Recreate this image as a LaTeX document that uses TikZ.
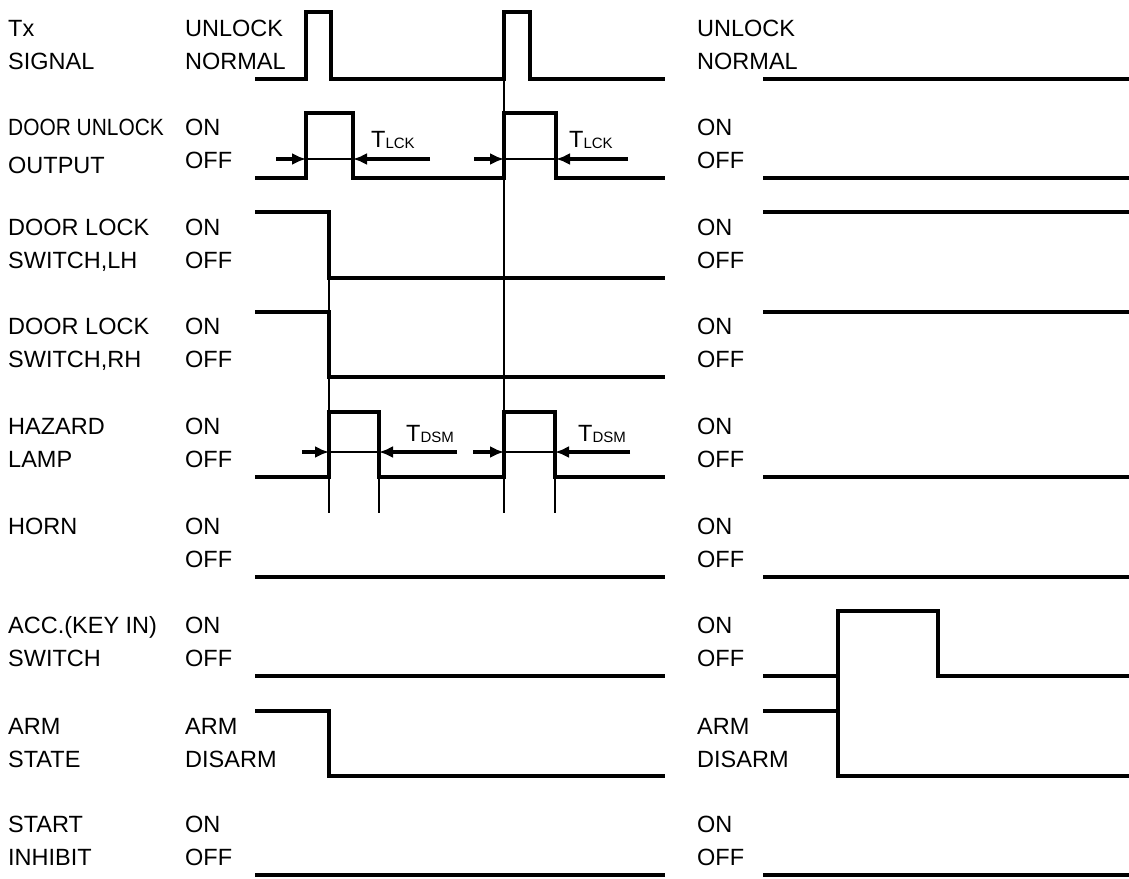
\documentclass[tikz,border=0pt]{standalone}
\usepackage{graphicx}
\usepackage{fontspec}
\setmainfont{Liberation Sans}
\usetikzlibrary{arrows.meta}
\begin{document}
\begin{tikzpicture}[x=1pt,y=-1pt,
  sig/.style={line width=4pt, line join=miter},
  thinln/.style={line width=1.6pt},
  midln/.style={line width=2.6pt},
  arr/.style={line width=4pt, -{Latex[length=14pt,width=12pt]}},
  lbl/.style={anchor=base west, inner sep=0pt, font=\fontsize{23.5}{28}\selectfont},
  tlbl/.style={anchor=base west, inner sep=0pt, font=\fontsize{23.5}{28}\selectfont}
]
\useasboundingbox[fill=white] (0,0) rectangle (1129,878);

% ---------- labels ----------
% row baselines b_r = 36 + 99.6 r
\node[lbl] (n0a) at (8,36) {Tx};
\node[lbl] (n0b) at (8,69) {SIGNAL};
\node[lbl] (s0a) at (185,36) {UNLOCK};
\node[lbl] (s0b) at (185,69) {NORMAL};
\node[lbl] (r0a) at (697,36) {UNLOCK};
\node[lbl] (r0b) at (697,69) {NORMAL};

\node[lbl] (n1a) at (8,135.6) {\scalebox{0.89}[1]{DOOR UNLOCK}};
\node[lbl] (n1b) at (8,173.6) {OUTPUT};
\node[lbl] (s1a) at (185,135.6) {ON};
\node[lbl] (s1b) at (185,168.6) {OFF};
\node[lbl] (r1a) at (697,135.6) {ON};
\node[lbl] (r1b) at (697,168.6) {OFF};

\node[lbl] (n2a) at (8,235.2) {DOOR LOCK};
\node[lbl] (n2b) at (8,268.2) {SWITCH,LH};
\node[lbl] (s2a) at (185,235.2) {ON};
\node[lbl] (s2b) at (185,268.2) {OFF};
\node[lbl] (r2a) at (697,235.2) {ON};
\node[lbl] (r2b) at (697,268.2) {OFF};

\node[lbl] (n3a) at (8,334.8) {DOOR LOCK};
\node[lbl] (n3b) at (8,367.8) {SWITCH,RH};
\node[lbl] (s3a) at (185,334.8) {ON};
\node[lbl] (s3b) at (185,367.8) {OFF};
\node[lbl] (r3a) at (697,334.8) {ON};
\node[lbl] (r3b) at (697,367.8) {OFF};

\node[lbl] (n4a) at (8,434.4) {HAZARD};
\node[lbl] (n4b) at (8,467.4) {LAMP};
\node[lbl] (s4a) at (185,434.4) {ON};
\node[lbl] (s4b) at (185,467.4) {OFF};
\node[lbl] (r4a) at (697,434.4) {ON};
\node[lbl] (r4b) at (697,467.4) {OFF};

\node[lbl] (n5a) at (8,534) {HORN};
\node[lbl] (s5a) at (185,534) {ON};
\node[lbl] (s5b) at (185,567) {OFF};
\node[lbl] (r5a) at (697,534) {ON};
\node[lbl] (r5b) at (697,567) {OFF};

\node[lbl] (n6a) at (8,633.6) {ACC.(KEY IN)};
\node[lbl] (n6b) at (8,666.6) {SWITCH};
\node[lbl] (s6a) at (185,633.6) {ON};
\node[lbl] (s6b) at (185,666.6) {OFF};
\node[lbl] (r6a) at (697,633.6) {ON};
\node[lbl] (r6b) at (697,666.6) {OFF};

\node[lbl] (n7a) at (8,734) {ARM};
\node[lbl] (n7b) at (8,767) {STATE};
\node[lbl] (s7a) at (185,734) {ARM};
\node[lbl] (s7b) at (185,767) {DISARM};
\node[lbl] (r7a) at (697,734) {ARM};
\node[lbl] (r7b) at (697,767) {DISARM};

\node[lbl] (n8a) at (8,832.8) {START};
\node[lbl] (n8b) at (8,865.8) {INHIBIT};
\node[lbl] (s8a) at (185,832.8) {ON};
\node[lbl] (s8b) at (185,865.8) {OFF};
\node[lbl] (r8a) at (697,832.8) {ON};
\node[lbl] (r8b) at (697,865.8) {OFF};

% ---------- thin vertical reference lines ----------
\draw[midln] (504,12) -- (504,513);
\draw[thinln] (329,212) -- (329,513);
\draw[thinln] (379,412) -- (379,513);
\draw[thinln] (555,412) -- (555,513);

% ---------- signals, left panel ----------
% Tx signal
\draw[sig] (255,78.5) -- (306,78.5) -- (306,12) -- (331,12) -- (331,78.5) -- (504,78.5) -- (504,12) -- (530,12) -- (530,78.5) -- (665,78.5);
% door unlock output
\draw[sig] (255,178) -- (306,178) -- (306,113) -- (353,113) -- (353,178) -- (504,178) -- (504,113) -- (556,113) -- (556,178) -- (665,178);
% door lock LH
\draw[sig] (255,212) -- (329,212) -- (329,277.7) -- (665,277.7);
% door lock RH
\draw[sig] (255,312) -- (329,312) -- (329,377.3) -- (665,377.3);
% hazard lamp
\draw[sig] (255,477) -- (329,477) -- (329,412) -- (379,412) -- (379,477) -- (504,477) -- (504,412) -- (555,412) -- (555,477) -- (665,477);
% horn
\draw[sig] (255,576.5) -- (665,576.5);
% acc
\draw[sig] (255,676) -- (665,676);
% arm state
\draw[sig] (255,711) -- (329,711) -- (329,775.5) -- (665,775.5);
% start inhibit
\draw[sig] (255,875.3) -- (665,875.3);

% ---------- signals, right panel ----------
\draw[sig] (763,78.5) -- (1129,78.5);
\draw[sig] (763,178) -- (1129,178);
\draw[sig] (763,212) -- (1129,212);
\draw[sig] (763,312) -- (1129,312);
\draw[sig] (763,477) -- (1129,477);
\draw[sig] (763,576.5) -- (1129,576.5);
\draw[sig] (763,676) -- (838,676) -- (838,611) -- (938,611) -- (938,676) -- (1129,676);
\draw[sig] (763,711) -- (838,711) -- (838,775.5) -- (1129,775.5);
\draw[sig] (838,674) -- (838,713);
\draw[sig] (763,875.3) -- (1129,875.3);

% ---------- timing arrows ----------
\coordinate (a1s) at (276,159); \coordinate (a1e) at (306,159);
\coordinate (a2s) at (430,159); \coordinate (a2e) at (353,159);
\coordinate (a3s) at (474,159); \coordinate (a3e) at (504,159);
\coordinate (a4s) at (628,159); \coordinate (a4e) at (556,159);
\draw[arr] (a1s) -- (a1e);
\draw[thinln] (a1e) -- (a2e);
\draw[arr] (a2s) -- (a2e);
\draw[arr] (a3s) -- (a3e);
\draw[thinln] (a3e) -- (a4e);
\draw[arr] (a4s) -- (a4e);
\node[tlbl] (tl1) at (371,147) {T\raisebox{-1.5pt}{\fontsize{15}{18}\selectfont LCK}};
\node[tlbl] (tl2) at (569,147) {T\raisebox{-1.5pt}{\fontsize{15}{18}\selectfont LCK}};

\coordinate (b1s) at (302,452); \coordinate (b1e) at (329,452);
\coordinate (b2s) at (457,452); \coordinate (b2e) at (379,452);
\coordinate (b3s) at (473,452); \coordinate (b3e) at (504,452);
\coordinate (b4s) at (630,452); \coordinate (b4e) at (555,452);
\draw[arr] (b1s) -- (b1e);
\draw[thinln] (b1e) -- (b2e);
\draw[arr] (b2s) -- (b2e);
\draw[arr] (b3s) -- (b3e);
\draw[thinln] (b3e) -- (b4e);
\draw[arr] (b4s) -- (b4e);
\node[tlbl] (td1) at (406,441) {T\raisebox{-1.5pt}{\fontsize{15}{18}\selectfont DSM}};
\node[tlbl] (td2) at (578,441) {T\raisebox{-1.5pt}{\fontsize{15}{18}\selectfont DSM}};
\end{tikzpicture}
\end{document}
